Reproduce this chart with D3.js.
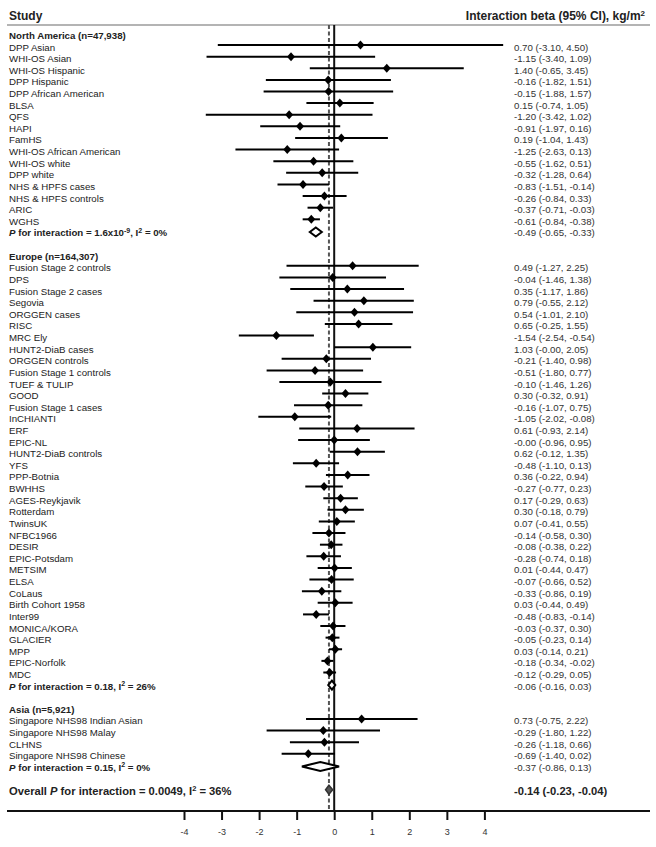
<!DOCTYPE html>
<html>
<head>
<meta charset="utf-8">
<script src="https://cdn.jsdelivr.net/npm/d3@7"></script>
<style>
  body { margin: 0; background: #fff; }
  svg text { font-family: "Liberation Sans", Arial, sans-serif; }
</style>
</head>
<body>
<svg id="chart" width="656" height="847"></svg>
<script>
"use strict";

// study names and estimates
const naNames = ["DPP Asian", "WHI-OS Asian", "WHI-OS Hispanic", "DPP Hispanic", "DPP African American",
  "BLSA", "QFS", "HAPI", "FamHS", "WHI-OS African American", "WHI-OS white", "DPP white",
  "NHS & HPFS cases", "NHS & HPFS controls", "ARIC", "WGHS"];
const naBeta = [0.70, -1.15, 1.40, -0.16, -0.15, 0.15, -1.20, -0.91, 0.19, -1.25, -0.55, -0.32, -0.83, -0.26, -0.37, -0.61];
const naLo   = [-3.10, -3.40, -0.65, -1.82, -1.88, -0.74, -3.42, -1.97, -1.04, -2.63, -1.62, -1.28, -1.51, -0.84, -0.71, -0.84];
const naHi   = [4.50, 1.09, 3.45, 1.51, 1.57, 1.05, 1.02, 0.16, 1.43, 0.13, 0.51, 0.64, -0.14, 0.33, -0.03, -0.38];

const euNames = ["Fusion Stage 2 controls", "DPS", "Fusion Stage 2 cases", "Segovia", "ORGGEN cases", "RISC",
  "MRC Ely", "HUNT2-DiaB cases", "ORGGEN controls", "Fusion Stage 1 controls", "TUEF & TULIP", "GOOD",
  "Fusion Stage 1 cases", "InCHIANTI", "ERF", "EPIC-NL", "HUNT2-DiaB controls", "YFS", "PPP-Botnia",
  "BWHHS", "AGES-Reykjavik", "Rotterdam", "TwinsUK", "NFBC1966", "DESIR", "EPIC-Potsdam", "METSIM",
  "ELSA", "CoLaus", "Birth Cohort 1958", "Inter99", "MONICA/KORA", "GLACIER", "MPP", "EPIC-Norfolk", "MDC"];
const euBeta = [0.49, -0.04, 0.35, 0.79, 0.54, 0.65, -1.54, 1.03, -0.21, -0.51, -0.10, 0.30, -0.16, -1.05, 0.61, -0,
  0.62, -0.48, 0.36, -0.27, 0.17, 0.30, 0.07, -0.14, -0.08, -0.28, 0.01, -0.07, -0.33, 0.03, -0.48, -0.03,
  -0.05, 0.03, -0.18, -0.12];
const euLo = [-1.27, -1.46, -1.17, -0.55, -1.01, -0.25, -2.54, -0, -1.40, -1.80, -1.46, -0.32, -1.07, -2.02, -0.93, -0.96,
  -0.12, -1.10, -0.22, -0.77, -0.29, -0.18, -0.41, -0.58, -0.38, -0.74, -0.44, -0.66, -0.86, -0.44, -0.83, -0.37,
  -0.23, -0.14, -0.34, -0.29];
const euHi = [2.25, 1.38, 1.86, 2.12, 2.10, 1.55, -0.54, 2.05, 0.98, 0.77, 1.26, 0.91, 0.75, -0.08, 2.14, 0.95,
  1.35, 0.13, 0.94, 0.23, 0.63, 0.79, 0.55, 0.30, 0.22, 0.18, 0.47, 0.52, 0.19, 0.49, -0.14, 0.30,
  0.14, 0.21, -0.02, 0.05];

const asNames = ["Singapore NHS98 Indian Asian", "Singapore NHS98 Malay", "CLHNS", "Singapore NHS98 Chinese"];
const asBeta = [0.73, -0.29, -0.26, -0.69];
const asLo   = [-0.75, -1.80, -1.18, -1.40];
const asHi   = [2.22, 1.22, 0.66, 0.02];

// pooled: North America, Europe, Asia, overall
const pooledBeta = [-0.49, -0.06, -0.37, -0.14];
const pooledLo   = [-0.65, -0.16, -0.86, -0.23];
const pooledHi   = [-0.33, 0.03, 0.13, -0.04];

const groupTitles = ["North America (n=47,938)", "Europe (n=164,307)", "Asia (n=5,921)"];
const pLabels = [["1.6x10", "-9", "0%"], ["0.18", null, "26%"], ["0.15", null, "0%"]];
const xTicks = [-4, -3, -2, -1, 0, 1, 2, 3, 4];

//-----------------------------------------------------------
const svg = d3.select("#chart");
const x = d3.scaleLinear().domain([-4, 4]).range([184, 484.4]);
const rowH = 11.62, firstRowY = 33.4;
const yRow = i => firstRowY + i * rowH;
const textDy = 5.5;   // text sits a little lower than the marks
const fmt = v => (v < 0 || Object.is(v, -0)) ? "-" + Math.abs(v).toFixed(2) : v.toFixed(2);
const ci = (b, l, h) => fmt(b) + " (" + fmt(l) + ", " + fmt(h) + ")";

// build row list
const rows = [];
const groups = [[naNames, naBeta, naLo, naHi], [euNames, euBeta, euLo, euHi], [asNames, asBeta, asLo, asHi]];
let r = 0;
groups.forEach((g, gi) => {
  rows.push({type: "head", row: r++, label: groupTitles[gi]});
  g[0].forEach((n, i) => rows.push({type: "study", row: r++, label: n, b: g[1][i], lo: g[2][i], hi: g[3][i]}));
  rows.push({type: "pool", row: r++, gi: gi, b: pooledBeta[gi], lo: pooledLo[gi], hi: pooledHi[gi]});
  r++; // blank line
});
const overallRow = r;

const axisY = 811;

// header
svg.append("text").attr("x", 9).attr("y", 19.5).text("Study")
  .style("font-size", "12px").style("font-weight", "bold").attr("fill", "#222");
const ht = svg.append("text").attr("x", 645).attr("y", 19.5).attr("text-anchor", "end")
  .style("font-size", "12px").style("font-weight", "bold").attr("fill", "#222");
ht.append("tspan").text("Interaction beta (95% CI), kg/m");
ht.append("tspan").text("2").attr("dy", -4).style("font-size", "8px");
svg.append("line").attr("x1", 7).attr("x2", 650).attr("y1", 25).attr("y2", 25)
  .attr("stroke", "#b4b4b4").attr("stroke-width", 2);

// reference lines
svg.append("line").attr("x1", x(0)).attr("x2", x(0)).attr("y1", 25).attr("y2", axisY)
  .attr("stroke", "#111").attr("stroke-width", 2);
svg.append("line").attr("x1", x(pooledBeta[3])).attr("x2", x(pooledBeta[3])).attr("y1", 25).attr("y2", axisY)
  .attr("stroke", "#555").attr("stroke-width", 2).attr("stroke-dasharray", "4,2.5");

// labels
const lab = svg.append("g").style("font-size", "9.7px").attr("fill", "#222");
rows.forEach(d => {
  const y = yRow(d.row) + textDy;
  if (d.type === "head") {
    lab.append("text").attr("x", 9).attr("y", y).text(d.label).style("font-weight", "bold");
  } else if (d.type === "study") {
    lab.append("text").attr("x", 9).attr("y", y).text(d.label);
    lab.append("text").attr("x", 514).attr("y", y).text(ci(d.b, d.lo, d.hi)).attr("fill", "#333");
  } else {
    const p = pLabels[d.gi];
    const t = lab.append("text").attr("x", 9).attr("y", y).style("font-weight", "bold");
    t.append("tspan").text("P").style("font-style", "italic");
    t.append("tspan").text(" for interaction = " + p[0]);
    if (p[1]) t.append("tspan").text(p[1]).attr("dy", -3.5).style("font-size", "7px");
    t.append("tspan").text(", I").attr("dy", p[1] ? 3.5 : 0);
    t.append("tspan").text("2").attr("dy", -3.5).style("font-size", "7px");
    t.append("tspan").text(" = " + p[2]).attr("dy", 3.5);
    lab.append("text").attr("x", 514).attr("y", y).text(ci(d.b, d.lo, d.hi)).attr("fill", "#333");
  }
});

// overall row
const oy = yRow(overallRow) + 6.5;
const ot = svg.append("text").attr("x", 9).attr("y", oy).style("font-size", "11.2px")
  .style("font-weight", "bold").attr("fill", "#222");
ot.append("tspan").text("Overall ");
ot.append("tspan").text("P").style("font-style", "italic");
ot.append("tspan").text(" for interaction = 0.0049, I");
ot.append("tspan").text("2").attr("dy", -4).style("font-size", "7.5px");
ot.append("tspan").text(" = 36%").attr("dy", 4);
svg.append("text").attr("x", 514).attr("y", oy).text(ci(pooledBeta[3], pooledLo[3], pooledHi[3]))
  .style("font-size", "11.2px").style("font-weight", "bold").attr("fill", "#222");

// study CIs and markers
const studies = rows.filter(d => d.type === "study");
svg.append("g").selectAll("line").data(studies).join("line")
  .attr("x1", d => x(d.lo)).attr("x2", d => x(d.hi))
  .attr("y1", d => yRow(d.row)).attr("y2", d => yRow(d.row))
  .attr("stroke", "#000").attr("stroke-width", 2);
svg.append("g").selectAll("path").data(studies).join("path")
  .attr("d", d => {
    const cx = x(d.b), cy = yRow(d.row);
    return `M${cx - 4},${cy}L${cx},${cy - 4.5}L${cx + 4},${cy}L${cx},${cy + 4.5}Z`;
  })
  .attr("fill", "#000");

// pooled diamonds
const pools = rows.filter(d => d.type === "pool");
svg.append("g").selectAll("path").data(pools).join("path")
  .attr("d", d => {
    const cy = yRow(d.row) + 1;
    return `M${x(d.lo)},${cy}L${x(d.b)},${cy - 4.5}L${x(d.hi)},${cy}L${x(d.b)},${cy + 4.5}Z`;
  })
  .attr("fill", "#fff").attr("stroke", "#000").attr("stroke-width", 2);

// overall diamond
const ocy = yRow(overallRow) + 1;
svg.append("path")
  .attr("d", `M${x(pooledLo[3])},${ocy}L${x(pooledBeta[3])},${ocy - 4.5}L${x(pooledHi[3])},${ocy}L${x(pooledBeta[3])},${ocy + 4.5}Z`)
  .attr("fill", "#555").attr("stroke", "#333").attr("stroke-width", 1.5);

// x axis
svg.append("line").attr("x1", 7).attr("x2", 650).attr("y1", axisY).attr("y2", axisY)
  .attr("stroke", "#111").attr("stroke-width", 2);
const ax = svg.append("g").attr("transform", `translate(0,${axisY})`)
  .call(d3.axisBottom(x).tickValues(xTicks).tickSize(9).tickPadding(9).tickFormat(d => String(d)));
ax.select(".domain").remove();
ax.selectAll(".tick line").attr("stroke", "#111").attr("stroke-width", 2);
ax.selectAll(".tick text").attr("fill", "#333").style("font-size", "9px")
  .style("font-family", "'Liberation Sans', Arial, sans-serif");
</script>
</body>
</html>
